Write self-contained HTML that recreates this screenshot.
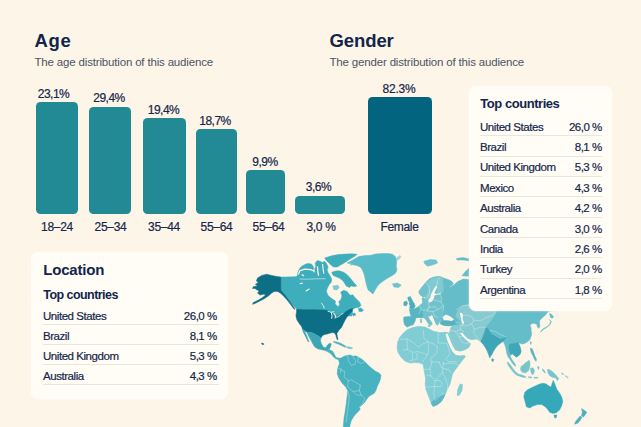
<!DOCTYPE html>
<html lang="en">
<head>
<meta charset="utf-8">
<title>Audience demographics</title>
<style>
*{box-sizing:border-box;margin:0;padding:0}
html,body{width:641px;height:427px;overflow:hidden}
body{background:#fef5e9;font-family:"Liberation Sans",sans-serif;color:#14264a;position:relative}
.abs{position:absolute;white-space:nowrap}
h2{position:absolute;font-size:18.5px;font-weight:700;line-height:20px;color:#12254b;letter-spacing:-0.1px}
.sub{position:absolute;font-size:11.5px;line-height:14px;color:#4b5563;white-space:nowrap;letter-spacing:-0.17px}
.bar{position:absolute;background:#218a94;border-radius:4.5px}
.val{-webkit-text-stroke:0.2px #14264a;position:absolute;font-size:12px;line-height:12px;text-align:center;color:#14264a;white-space:nowrap;letter-spacing:-0.5px;width:60px}
.lab{-webkit-text-stroke:0.2px #14264a;position:absolute;font-size:12px;line-height:12px;text-align:center;color:#14264a;white-space:nowrap;letter-spacing:-0.3px;width:60px}
.card{position:absolute;background:#fffdf6;border-radius:7px;box-shadow:0 0 2px rgba(255,253,246,.9)}
.card h3{position:absolute;font-weight:700;color:#12254b;white-space:nowrap}
.row{position:absolute;height:16.6px;font-size:11.5px;line-height:14px;color:#14264a;letter-spacing:-0.45px;border-bottom:1px solid #ebe6db;-webkit-text-stroke:0.2px #14264a}
.row span{position:absolute;left:0;top:0;white-space:nowrap}
.row b{position:absolute;right:0.3px;top:0;font-weight:400;white-space:nowrap;letter-spacing:-0.5px}
#map{position:absolute;left:0;top:0}
</style>
</head>
<body>

<!-- world map -->
<svg id="map" width="641" height="427" viewBox="0 0 641 427">
<!--MAP-->
<path d="M281 277.1 L295 276.8 L297.3 276.1 L297.8 272.7 L298.8 270.1 L300.7 267 L303.8 265.1 L307.6 263.4 L311.2 263.9 L313 266 L314 268.9 L315.9 267 L315.2 263.2 L317.1 260.6 L320.3 261.3 L322.2 262.5 L324.7 261.3 L326.6 263.8 L328.1 267 L327.2 270.1 L328.1 272.7 L329.8 275.2 L331.7 279 L331.4 282.1 L329.1 284.7 L327.2 288.5 L326.4 291.6 L328.1 295.4 L331.7 298.6 L335.5 301.1 L335.1 304.1 L338.2 306.7 L339.5 304.8 L338.8 301.6 L340.7 299.7 L342 295.9 L340.7 292.1 L343.9 290.2 L347.1 291.5 L350.2 295.3 L352.8 294.7 L354.7 297.2 L357.2 299.7 L359.7 302.2 L361 305.4 L359.1 307.3 L355.3 307.9 L352.8 309.2 L352 316 L300 316 L296.7 309.2 L291.7 304.3 L288.7 300.1 L285.1 295.1 L281 290.1Z" fill="#3eaebd" stroke="#3eaebd" stroke-width="0.5" stroke-linejoin="round"/>
<path d="M324.7 257.9 L331.7 255.8 L338 254.6 L345.6 254.1 L351.9 253.8 L357.2 254.3 L354.4 256.6 L350.6 258.7 L346.8 261.3 L343.7 263.2 L340.5 265.1 L337.4 267 L333.6 267 L331 265.1 L328.1 262.2 L326 260Z" fill="#3eaebd" stroke="#3eaebd" stroke-width="0.5" stroke-linejoin="round"/>
<path d="M331.7 272.3 L335.5 271 L339.2 270.8 L343.7 272.3 L346.8 274.5 L350 277.7 L352.5 281.1 L355.1 284 L356.9 285.9 L354.4 286.6 L351.3 285.9 L349.4 287.4 L346.2 285.9 L344.3 282.8 L342.4 280.2 L339.2 278.1 L335.5 276.4 L332.9 275.2Z" fill="#3eaebd" stroke="#3eaebd" stroke-width="0.5" stroke-linejoin="round"/>
<path d="M332.9 285.9 L338 285.3 L339.2 287.8 L336.7 290 L333.6 289.5Z" fill="#7fc6cf" stroke="#7fc6cf" stroke-width="0.5" stroke-linejoin="round"/>
<path d="M358.4 308.6 L361 307.9 L363.5 310.2 L361.6 311.7 L359.1 311.5Z" fill="#3eaebd" stroke="#3eaebd" stroke-width="0.5" stroke-linejoin="round"/>
<path d="M352.1 313.6 L354.7 313 L355.9 314.9 L353.4 316.1Z" fill="#3eaebd" stroke="#3eaebd" stroke-width="0.5" stroke-linejoin="round"/>
<path d="M257.5 278.1 L261.7 275.4 L266.7 274.2 L271.7 275.4 L276.7 276.4 L280.9 277.1 L280.9 290.1 L285.1 295.1 L288.7 300.1 L291.7 304.3 L295.1 309.3 L293.7 308.8 L290.1 303.8 L286.7 299.6 L283.7 296.3 L280.9 293.4 L277.6 291.4 L274.2 291.4 L271.7 293.1 L268.4 295.9 L264.2 298.8 L260 300.9 L255 303.4 L252.5 304.3 L253.3 302.6 L258.4 300.1 L262.5 297.6 L265.9 294.8 L263.4 294.3 L260 295.1 L257.5 293.1 L259.2 290.9 L256.7 289.7 L255 288.4 L252.5 288.4 L253.3 286.7 L257.5 285.9 L255.4 284.2 L258.4 282.6 L256.4 280.9Z" fill="#0c6f86" stroke="#0c6f86" stroke-width="0.5" stroke-linejoin="round"/>
<path d="M395.9 258.6 L400 255.4 L400.9 256.6 L400 258.2 L397.4 260.5Z" fill="#9ad3d9" stroke="#9ad3d9" stroke-width="0.5" stroke-linejoin="round"/>
<path d="M347 263.1 L352.2 260.3 L358.7 256.6 L364.4 255.6 L370.9 255.2 L375.6 253.9 L382.2 253.6 L388.7 253.6 L392.5 254.2 L394.8 256.1 L396.2 258.9 L396.7 262.2 L396.2 265.9 L397 270.1 L395.3 273.4 L393.4 274.8 L391.1 276.2 L387.8 278.1 L384 280.5 L380.8 282.8 L378 285.6 L375.1 290 L373 294 L368.1 290 L367.2 287.5 L366.2 283.7 L365.3 280 L364.6 276.2 L363.4 272.5 L362 269.2 L360.1 266.9 L356.9 265.5 L353.1 264.8 L350.3 265 L352.2 264.1Z" fill="#58bcc8" stroke="#58bcc8" stroke-width="0.5" stroke-linejoin="round"/>
<path d="M296.7 309.2 L303.4 309.7 L313.4 309.7 L323.4 310 L327.6 310.4 L330.1 311.7 L332.6 314.2 L334.3 316.7 L336.8 315.9 L340.1 315 L343.5 313.4 L346.8 310.9 L350.1 309.2 L352.6 308.4 L351.8 311.7 L348.5 315 L346 318.4 L344.3 321.7 L342.6 325.1 L340.1 328.4 L342.5 325 L341.1 327.8 L338.7 330.6 L336.9 333.4 L337.3 336.2 L338 339.5 L336.9 339.2 L335.9 335.3 L335 333.4 L333.1 332.5 L330.3 333 L327.5 333.9 L324.7 334.4 L322.3 335.8 L320.9 338.1 L318.1 335.8 L314.8 333.9 L311.6 332.5 L306.9 332 L302.7 329.7 L301.7 326.7 L299.2 323.4 L297 320 L295.9 315.9 L296.4 312.5Z" fill="#0c6f86" stroke="#0c6f86" stroke-width="0.5" stroke-linejoin="round"/>
<path d="M302.7 329.7 L306.9 332 L311.6 332.5 L314.8 333.9 L318.1 335.8 L320.9 338.1 L320.5 340.9 L321.4 343.7 L323.3 347 L325.6 348 L327.5 345.1 L329.4 343.3 L331.2 343.7 L330.8 346.1 L329.4 348.9 L327.5 350.3 L324.7 350.3 L321.9 349.8 L318.1 348.9 L314.8 347 L313 344.2 L311.1 340.5 L308.7 336.2 L306.9 332.3 L305 330.8Z" fill="#3ca6b6" stroke="#3ca6b6" stroke-width="0.5" stroke-linejoin="round"/>
<path d="M302.7 329.7 L304.2 330.4 L306.5 335.3 L308.9 341.4 L308.3 342 L305.5 336.4 L303.1 331.7Z" fill="#3ca6b6" stroke="#3ca6b6" stroke-width="0.5" stroke-linejoin="round"/>
<path d="M324.7 350.3 L327.5 350.3 L329.4 349.6 L332.6 351.2 L334 353.6 L335.5 356.4 L336.9 357.8 L340.6 358.3 L342.7 357.3 L341.1 359.5 L338.7 359.8 L335.9 358.8 L334 357.4 L332.2 355.6 L330.3 353.2 L327.5 351.8Z" fill="#4ab0be" stroke="#4ab0be" stroke-width="0.5" stroke-linejoin="round"/>
<path d="M333.6 341.4 L336.9 341.9 L340.6 343.3 L343.9 345.1 L346.2 346.6 L345.3 347.3 L342.5 346.1 L338.7 344.2 L335 342.8 L333.6 342.2Z" fill="#4ab0be" stroke="#4ab0be" stroke-width="0.5" stroke-linejoin="round"/>
<path d="M346.7 346.7 L350 347.1 L352.6 347.9 L351.9 348.8 L349 348.4 L346.8 347.7Z" fill="#6fc0cb" stroke="#6fc0cb" stroke-width="0.5" stroke-linejoin="round"/>
<path d="M261.5 343 L263.5 343.4 L263.8 344.6 L262 344.4Z" fill="#0c6f86" stroke="#0c6f86" stroke-width="0.5" stroke-linejoin="round"/>
<path d="M337.2 373.4 L337.7 368 L339.5 363.5 L338.6 359.9 L341.3 358.1 L344 356.3 L346.7 355.4 L350.3 355 L353.1 356.3 L355.8 355.8 L358.5 357.2 L361.2 358.7 L363.9 360.8 L366.6 363.5 L369.3 366.2 L372.5 368.9 L375.6 371.3 L379.2 373.1 L381 375.2 L380.5 378.9 L379.2 382.5 L377.4 386.1 L376.1 390 L374.3 393.3 L371.1 395.1 L368.4 396.9 L366.6 399.6 L364.8 402.3 L362.1 405 L359.4 407.3 L360.3 409.2 L357.6 412.2 L354.9 414.9 L353.1 417.6 L351.2 420.7 L350.3 423.9 L349.4 427.9 L343.1 427.9 L343.7 422.1 L344 417.6 L344.9 413.1 L345.5 408.6 L346.2 404.1 L346.7 399.6 L347.3 395.1 L347.6 390.6 L345.8 387 L343.1 384.3 L340.4 380.7 L338.3 377.1Z" fill="#47b2c0" stroke="#47b2c0" stroke-width="0.5" stroke-linejoin="round"/>
<path d="M403.8 332.5 L407.5 329.5 L412.5 327.5 L418.8 326.3 L425.1 327 L428.8 328.8 L433.8 331.3 L440.1 332.5 L445.1 332 L449.6 333 L451.4 338.8 L453.9 345.1 L456.4 350.1 L458.9 353.8 L463.9 355.1 L465.6 356.6 L462.6 360.1 L458.9 365.1 L455.1 370.1 L452.6 373.8 L451.4 378.9 L450.1 383.9 L447.6 388.9 L445.6 393.9 L443.8 397.6 L441.3 401.4 L437.6 404.6 L433.1 406.4 L431.3 403.9 L429.6 398.9 L427.6 393.9 L425.8 388.9 L425.1 383.9 L425.6 378.9 L424.6 373.8 L423.8 368.8 L423.1 364.6 L420.1 363.1 L415.1 362.6 L410 363.1 L405 361.3 L401.3 357.6 L398 352.6 L397 347.6 L397.5 342.5 L399.5 337.5Z" fill="#80cdd5" stroke="#80cdd5" stroke-width="0.5" stroke-linejoin="round"/>
<path d="M431.3 403.1 L433.6 400.1 L437.1 397.6 L441.1 395.6 L444.6 395.1 L443.8 397.6 L441.3 401.4 L437.6 404.6 L433.1 406.4Z" fill="#5ab7c3" stroke="#5ab7c3" stroke-width="0.5" stroke-linejoin="round"/>
<path d="M460.1 383.9 L462.6 384.6 L462.1 390.1 L459.6 395.1 L457.1 395.6 L457.6 390.1 L458.9 386.4Z" fill="#80cdd5" stroke="#80cdd5" stroke-width="0.5" stroke-linejoin="round"/>
<path d="M449.6 333 L455.1 332 L460.1 333.8 L463.9 337.5 L467.6 341.3 L470.6 343.8 L468.9 347.6 L465.1 350.1 L460.1 352.1 L456.4 350.1 L453.9 345.1 L451.4 338.8Z" fill="#86cad2" stroke="#86cad2" stroke-width="0.5" stroke-linejoin="round"/>
<path d="M445.5 334 L447.6 333.6 L449.9 339.4 L452.7 345.9 L455.5 350.6 L460 351.4 L464 350.6 L469 348.5 L472 352 L468 354.6 L463 355.3 L460 355.6 L456 354.9 L452.8 352.1 L450.4 347.8 L447.6 341.2Z" fill="#fef5e9"/>
<path d="M411.4 316.4 L410.2 312.6 L410.7 310 L412.6 309.1 L415.2 309.5 L417.7 307.2 L419.6 305.3 L422.1 304 L422.8 301.9 L422.1 298.3 L424 297.7 L424.9 299.6 L426.2 299.6 L425.3 296.4 L423.4 296.8 L420.9 295.6 L419.2 293.3 L419 291.4 L422.1 287 L425.9 282.5 L429.7 278.7 L434.1 277.1 L440.5 276.6 L443.6 278.1 L448 279.4 L451.8 281.3 L453.4 283.8 L451.2 285.7 L448.7 287.2 L450.6 287 L454.4 284.4 L458.2 281.3 L463.2 279.1 L469.3 279.4 L480 272 L600 262 L604 280 L598 305 L548.2 311.3 L545.6 315.1 L541.8 318.2 L539.6 320.7 L539.6 323.3 L539.9 326.4 L538.7 328.3 L537.4 327.1 L536.8 324.2 L533.6 323.3 L531.1 323.9 L530.2 325.8 L531.1 327.7 L531.1 330.2 L531.7 333.4 L531.1 336.5 L529.8 339.7 L527.9 341.6 L525.4 343.1 L522.9 343.9 L520.3 343.5 L518.4 342.6 L519.1 344.8 L520.3 347.9 L521 351.1 L520.1 354.2 L518.4 355.8 L516.3 357 L514.8 355.8 L513.5 354.9 L512.3 353.5 L511 354.5 L510.2 356.4 L511.7 359.3 L514 362.5 L515.8 365.2 L515.2 366.3 L512.6 363.4 L510.1 359.6 L508.2 357 L506.9 353.9 L506.3 350.7 L505.7 347.5 L504.5 344.1 L502.6 340.3 L497.7 341.3 L480.2 340.5 L476.4 338.8 L471.4 339.5 L467.6 338 L463.9 335 L460.6 332.5 L455.1 332 L449.6 333 L450.1 330 L451.4 327 L460.1 324.6 L452.6 325.6 L445.1 325.6 L441.3 323.9 L441.3 320.1 L439.2 321.5 L438.6 323.8 L437 325.3 L435.7 322.8 L434.2 319 L432.7 315.4 L431.7 313.9 L429.1 312.6 L425.3 313.3 L423.1 315.2 L422.2 317.7 L419 317.2 L415.9 317.7Z" fill="#64bdc9" stroke="#64bdc9" stroke-width="0.5" stroke-linejoin="round"/>
<path d="M461.9 275.8 L465.7 271.2 L468.9 268 L472.1 268 L472.1 276.3 L468.9 276.3Z" fill="#64bdc9" stroke="#64bdc9" stroke-width="0.5" stroke-linejoin="round"/>
<path d="M411.4 316.4 L410.2 312.6 L410.7 310 L412.6 309.1 L415.2 309.5 L417.7 307.2 L419.6 305.3 L422.1 304 L422.8 301.9 L422.1 298.3 L424 297.7 L424.9 299.6 L426.2 299.6 L425.3 296.4 L423.4 296.8 L420.9 295.6 L419.2 293.3 L419 291.4 L422.1 287 L425.9 282.5 L429.7 278.7 L434.1 277.1 L440.5 276.6 L441.7 280.6 L443.6 288.2 L442.4 292.7 L439.2 293.9 L441.7 297.1 L441.1 302.1 L443.6 305.9 L443 311 L443.6 316.7 L441.7 319.8 L441.3 320.1 L439.2 321.5 L438.6 323.8 L437 325.3 L435.7 322.8 L434.2 319 L432.7 315.4 L431.7 313.9 L429.1 312.6 L425.3 313.3 L423.1 315.2 L422.2 317.7 L419 317.2 L415.9 317.7Z" fill="#70c3cd" stroke="#70c3cd" stroke-width="0.5" stroke-linejoin="round"/>
<path d="M403.8 317.1 L407.6 316.4 L411.4 316.4 L415.9 317.7 L415.2 320.9 L413.3 324.7 L409.5 325.9 L407 327.2 L404.5 324.7 L403.6 320.9Z" fill="#58b6c3" stroke="#58b6c3" stroke-width="0.5" stroke-linejoin="round"/>
<path d="M427.2 283.2 L430.3 279.6 L434.1 278.1 L440.2 277.6 L443 278.9 L442.7 283.2 L443.4 288.2 L442.1 292.7 L437.9 293.3 L436.7 292 L437.9 289.2 L437.7 287 L436.7 285.7 L435.4 286.3 L433.5 288.9 L431.6 292 L430.1 295.6 L429.3 298.3 L427.2 297.7 L426.2 299.6 L425.5 296.8 L427.3 293.3 L428.8 288.2 L428.3 285.1Z" fill="#80cad3" stroke="#80cad3" stroke-width="0.5" stroke-linejoin="round"/>
<path d="M436.4 285.4 L437.4 287 L436 289.7 L434.4 292.7 L436 293.9 L440.7 293 L441 293.9 L436.7 294.8 L434.4 295.6 L434.1 297.7 L433.1 299.9 L431.4 301.9 L429.3 302.4 L428.1 301.1 L428.8 299 L430.3 297.7 L430.6 295.2 L431.9 292.3 L433.5 289.5 L435.1 286.7Z" fill="#fef5e9"/>
<path d="M461.4 321.4 L457.6 318.6 L455.6 316.1 L456.9 312.4 L458.9 308.6 L463.1 305.3 L468.9 304.6 L475.1 305.6 L480 304 L497 311 L493 318 L489 323 L485.6 327 L485.6 329.1 L484.4 332.9 L482.5 337.9 L480.6 341.7 L476.4 338.8 L471.4 339.5 L467.6 338 L463.9 335 L460.6 332.5 L455.1 332 L449.6 333 L450.1 330 L451.4 327 L461.4 324.6Z" fill="#86cad2" stroke="#86cad2" stroke-width="0.5" stroke-linejoin="round"/>
<path d="M440.1 321.7 L443.9 320.9 L449 321.2 L454 320.9 L455.9 322.8 L454.7 325 L449 325.9 L443.3 325.3 L440.4 324Z" fill="#55b3c0" stroke="#55b3c0" stroke-width="0.5" stroke-linejoin="round"/>
<path d="M442.6 317.1 L445.8 314.5 L449 315.8 L452.1 317.7 L454 319.6 L451.5 320.9 L447.7 320.2 L443.9 320.2Z" fill="#fef5e9"/>
<path d="M459.7 313.3 L461.6 312.6 L463.1 315.2 L462.6 319 L464.1 322.8 L463.1 324.7 L461.6 322.1 L461 317.7Z" fill="#fef5e9"/>
<path d="M461 333.5 L462.2 332.6 L463.9 334.8 L466.7 337.9 L467.9 340.7 L466 339.8 L463.1 336.7Z" fill="#fef5e9"/>
<path d="M510.2 344.1 L514.7 343.5 L518.4 342.6 L519.1 344.8 L520.3 347.9 L521 351.1 L520.1 354.2 L518.4 355.8 L516.3 357 L514.8 355.8 L513.5 354.9 L512.3 353.5 L511 354.5 L510.2 353 L509 349.2 L509 346Z" fill="#3fa7b7" stroke="#3fa7b7" stroke-width="0.5" stroke-linejoin="round"/>
<path d="M486.3 327.2 L485.6 329.1 L484.4 332.9 L482.5 337.9 L480.6 341.7 L483.1 344.2 L485.6 348 L487.5 351.8 L488.9 355.6 L489.7 358 L490.7 356.3 L492.2 354 L493.2 351.8 L495.1 348.7 L497.6 345.5 L500.8 343 L504 340.5 L505.9 336.7 L504.6 337.9 L500.8 339.2 L495.7 336.7 L490.7 333.5 L489.4 330.3Z" fill="#3ea6b6" stroke="#3ea6b6" stroke-width="0.5" stroke-linejoin="round"/>
<path d="M491.9 358.6 L493.9 359.6 L492.9 361.8 L491.7 360.6Z" fill="#3ea6b6" stroke="#3ea6b6" stroke-width="0.5" stroke-linejoin="round"/>
<path d="M407.8 297.3 L410.4 296.6 L411.6 299 L412.6 301.1 L414.2 303.4 L415.2 305.9 L414.2 308.2 L411.6 309 L409.4 308.2 L410.1 305.9 L409.1 304 L409.6 302.1 L408.1 300.2Z" fill="#4aaebd" stroke="#4aaebd" stroke-width="0.5" stroke-linejoin="round"/>
<path d="M403.8 301.9 L406.6 300.9 L407.6 303.4 L406.3 305.9 L403.8 305.4Z" fill="#4aaebd" stroke="#4aaebd" stroke-width="0.5" stroke-linejoin="round"/>
<path d="M392.5 283.8 L397.5 283.1 L401.3 285.1 L398.8 287.6 L393.8 287.1Z" fill="#70c3cd" stroke="#70c3cd" stroke-width="0.5" stroke-linejoin="round"/>
<path d="M423.8 261.3 L430.1 259.5 L436.3 260 L437.6 263 L432.6 265 L427.6 266.3 L424.6 263.8Z" fill="#70c3cd" stroke="#70c3cd" stroke-width="0.5" stroke-linejoin="round"/>
<path d="M456.3 258.5 L462.6 257.5 L470.1 259 L470.1 261 L463.1 260 L457.1 260Z" fill="#64bdc9" stroke="#64bdc9" stroke-width="0.5" stroke-linejoin="round"/>
<path d="M422.2 317.7 L423.1 315.2 L425.3 313.3 L429.1 312.6 L431.7 313.9 L431 315.8 L428.1 316.4 L429.4 319 L431 321.5 L432.3 323.4 L431.7 325 L429.8 325.3 L428.1 323.4 L426.6 320.9 L425.1 318.7 L423.8 318Z" fill="#70c3cd" stroke="#70c3cd" stroke-width="0.5" stroke-linejoin="round"/>
<path d="M428.1 325.3 L430.4 325.7 L429.8 326.8 L428.1 326.3Z" fill="#70c3cd" stroke="#70c3cd" stroke-width="0.5" stroke-linejoin="round"/>
<path d="M420.3 319 L421.5 319 L421.8 322.5 L420.5 322.8Z" fill="#70c3cd" stroke="#70c3cd" stroke-width="0.5" stroke-linejoin="round"/>
<path d="M411.4 316.4 L410.2 312.6 L409.2 309.6 L410.8 308.8 L414 309.1 L417.1 307.6 L420.3 307.8 L422.2 310.7 L423.1 315.2 L422.2 317.7 L419 317.2 L415.9 317.7Z" fill="#58b6c3" stroke="#58b6c3" stroke-width="0.5" stroke-linejoin="round"/>
<path d="M549.4 319.5 L550.7 321.4 L549.7 324.2 L547.8 326.2 L545.6 327.4 L543.1 328.7 L541.3 330.5 L540.6 332.3 L541.8 331 L543.6 329.2 L546.1 328 L548.2 326.4 L550.2 324.4 L551.4 321.6Z" fill="#66bec9" stroke="#66bec9" stroke-width="0.5" stroke-linejoin="round"/>
<path d="M549.7 313.5 L551.9 314.6 L553.7 317.1 L552.2 318.3 L550.2 317.3Z" fill="#66bec9" stroke="#66bec9" stroke-width="0.5" stroke-linejoin="round"/>
<path d="M530.5 341.6 L531.6 342.6 L530.8 344.5 L530.1 343.1Z" fill="#66bec9" stroke="#66bec9" stroke-width="0.5" stroke-linejoin="round"/>
<path d="M530.3 348.2 L532.2 348.8 L533.5 352 L534.8 355.8 L536.4 359 L536 361.5 L534.4 359 L532.6 355.2 L531 352Z" fill="#55b4c1" stroke="#55b4c1" stroke-width="0.5" stroke-linejoin="round"/>
<path d="M520.9 366.5 L523.4 364.7 L526.5 362.1 L529.3 360.2 L530.1 363.4 L529.7 367.2 L528.4 371 L525.3 373.1 L522.1 372.2 L520.5 369.7Z" fill="#78c4cd" stroke="#78c4cd" stroke-width="0.5" stroke-linejoin="round"/>
<path d="M507 362.1 L508.8 362.8 L512 367.2 L515.2 371.6 L518.3 374.1 L517.7 375.7 L514.5 373.5 L511.4 369.7 L508.2 365.3Z" fill="#78c4cd" stroke="#78c4cd" stroke-width="0.5" stroke-linejoin="round"/>
<path d="M517.7 374.1 L521.5 374.8 L525.9 376.7 L525.3 377.7 L520.9 376.7 L517.7 375.4Z" fill="#78c4cd" stroke="#78c4cd" stroke-width="0.5" stroke-linejoin="round"/>
<path d="M528.4 376.7 L531.6 376.9 L531.6 377.9 L528.4 377.7Z" fill="#78c4cd" stroke="#78c4cd" stroke-width="0.5" stroke-linejoin="round"/>
<path d="M534.1 377.3 L537.9 377.3 L537.7 378.2 L534.1 378.2Z" fill="#78c4cd" stroke="#78c4cd" stroke-width="0.5" stroke-linejoin="round"/>
<path d="M537.9 365.9 L539.2 367.2 L538.6 369.7 L537.7 367.8Z" fill="#78c4cd" stroke="#78c4cd" stroke-width="0.5" stroke-linejoin="round"/>
<path d="M542.4 368.8 L544.2 370.3 L545.5 373.1 L544.2 372.6 L542.7 370.6Z" fill="#78c4cd" stroke="#78c4cd" stroke-width="0.5" stroke-linejoin="round"/>
<path d="M561.3 372.9 L562.6 373.1 L563.8 374.8 L563 374.8Z" fill="#78c4cd" stroke="#78c4cd" stroke-width="0.5" stroke-linejoin="round"/>
<path d="M565.1 375.7 L566.4 375.9 L568.3 377.9 L567.3 377.7Z" fill="#78c4cd" stroke="#78c4cd" stroke-width="0.5" stroke-linejoin="round"/>
<path d="M530.3 368.4 L533.1 367.8 L534.4 370.3 L533.9 373.5 L532.2 374.8 L531 372.2Z" fill="#78c4cd" stroke="#78c4cd" stroke-width="0.5" stroke-linejoin="round"/>
<path d="M547.4 369.3 L549.9 369.7 L553.1 372.2 L556.3 375.4 L558.8 378.6 L557.5 380.7 L555.6 377.9 L552.5 377.3 L549.9 376 L548 373.1Z" fill="#78c4cd" stroke="#78c4cd" stroke-width="0.5" stroke-linejoin="round"/>
<path d="M523.8 396.9 L524.7 392.5 L527.5 389.8 L531.9 387.6 L536.4 385.4 L539.7 384.1 L543 383.2 L546.3 384.1 L548.9 385.9 L551.1 387 L552.4 382.6 L553.3 380.4 L555.1 384.8 L556.8 389.2 L559.5 392.9 L561.7 396.9 L562.8 401.3 L561.7 405.7 L559.5 410.1 L556.2 412.8 L552.9 413.4 L549.6 412.3 L547.4 409 L545.2 406.8 L541.9 404.6 L537.5 404.6 L533 406.1 L529.7 407.9 L526.4 406.8 L525.3 402.4Z" fill="#35a9ba" stroke="#35a9ba" stroke-width="0.5" stroke-linejoin="round"/>
<path d="M554 415 L556.8 415 L556.2 417.8 L554.6 417.8Z" fill="#35a9ba" stroke="#35a9ba" stroke-width="0.5" stroke-linejoin="round"/>
<path d="M581.5 408.6 L585 410.8 L586.8 412.3 L585 415 L583.3 417.2 L581.5 415.4 L582.4 412.3Z" fill="#4bb0be" stroke="#4bb0be" stroke-width="0.5" stroke-linejoin="round"/>
<path d="M582 417.2 L580.2 420.2 L577.6 423.3 L574.5 424.2 L575.6 421.6 L577.8 418.7 L580.2 416.1Z" fill="#4bb0be" stroke="#4bb0be" stroke-width="0.5" stroke-linejoin="round"/>
<path d="M298.5 273.9 L299.8 270.8 L304.5 269.2 L310.8 269.7 L314 271" fill="none" stroke="#fef5e9" stroke-width="1.3" stroke-opacity="1.0" stroke-linecap="round" stroke-linejoin="round"/>
<path d="M317.5 267 L317.8 271.4 L318.5 275.2" fill="none" stroke="#fef5e9" stroke-width="1.3" stroke-opacity="1.0" stroke-linecap="round" stroke-linejoin="round"/>
<path d="M322.6 264.4 L323.1 268.9 L323.8 273.3" fill="none" stroke="#fef5e9" stroke-width="1.1" stroke-opacity="1.0" stroke-linecap="round" stroke-linejoin="round"/>
<path d="M300.1 279 L307.6 279.2 L316.5 278.8 L325.3 278.7" fill="none" stroke="#fef5e9" stroke-width="0.7" stroke-opacity="0.8" stroke-linecap="round" stroke-linejoin="round"/>
<path d="M314 268.9 L314 272" fill="none" stroke="#fef5e9" stroke-width="1.0" stroke-opacity="1.0" stroke-linecap="round" stroke-linejoin="round"/>
<path d="M328 311.2 L331.2 312.3 L333.9 311.7" fill="none" stroke="#fef5e9" stroke-width="0.9" stroke-opacity="1.0" stroke-linecap="round" stroke-linejoin="round"/>
<path d="M331.3 312.5 L332 315.8 L331.7 318.4" fill="none" stroke="#fef5e9" stroke-width="1.0" stroke-opacity="1.0" stroke-linecap="round" stroke-linejoin="round"/>
<path d="M334 313.4 L335.7 315.8 L335.1 318.1" fill="none" stroke="#fef5e9" stroke-width="1.0" stroke-opacity="1.0" stroke-linecap="round" stroke-linejoin="round"/>
<path d="M335.7 317.2 L337.3 317 L340.1 315.5" fill="none" stroke="#fef5e9" stroke-width="0.9" stroke-opacity="1.0" stroke-linecap="round" stroke-linejoin="round"/>
<path d="M340.8 314.6 L343 313.5" fill="none" stroke="#fef5e9" stroke-width="0.8" stroke-opacity="1.0" stroke-linecap="round" stroke-linejoin="round"/>
<path d="M321.4 303.1 L323.3 305.5 L324.2 308.3" fill="none" stroke="#fef5e9" stroke-width="0.8" stroke-opacity="1.0" stroke-linecap="round" stroke-linejoin="round"/>
<path d="M306.1 291 L307.6 290 L309.2 289.1" fill="none" stroke="#fef5e9" stroke-width="1.1" stroke-opacity="1.0" stroke-linecap="round" stroke-linejoin="round"/>
<path d="M300.1 283.7 L302.3 283.1" fill="none" stroke="#fef5e9" stroke-width="1.1" stroke-opacity="1.0" stroke-linecap="round" stroke-linejoin="round"/>
<path d="M302 274.8 L303.6 275.6" fill="none" stroke="#fef5e9" stroke-width="1.2" stroke-opacity="1.0" stroke-linecap="round" stroke-linejoin="round"/>
<path d="M400 339.4 L407 338.9 L407.5 349.7 L402.8 350.1" fill="none" stroke="#fffaf0" stroke-width="0.7" stroke-opacity="0.45" stroke-linecap="round" stroke-linejoin="round"/>
<path d="M407 338.9 L414.1 343.1 L418.3 347.3 L422.5 344.1 L428.1 341.7 L433.7 344.1 L437.5 346.9" fill="none" stroke="#fffaf0" stroke-width="0.7" stroke-opacity="0.45" stroke-linecap="round" stroke-linejoin="round"/>
<path d="M423.4 330 L423.9 338.4 L428.1 341.7 L428.6 351.6 L427.2 355.3 L422.5 361.9" fill="none" stroke="#fffaf0" stroke-width="0.7" stroke-opacity="0.45" stroke-linecap="round" stroke-linejoin="round"/>
<path d="M438.4 332.8 L438 343.1 L446.9 343.1 L448.7 348.7 L449.7 354.4 L445.9 359.1 L448.7 361.9 L457.2 361.4" fill="none" stroke="#fffaf0" stroke-width="0.7" stroke-opacity="0.45" stroke-linecap="round" stroke-linejoin="round"/>
<path d="M437.5 346.9 L436.6 353.4 L430.9 358.1 L430.9 361.9 L439.4 362.3" fill="none" stroke="#fffaf0" stroke-width="0.7" stroke-opacity="0.45" stroke-linecap="round" stroke-linejoin="round"/>
<path d="M407.5 349.7 L413.1 352.5 L417.8 351.6 L427.2 354.4" fill="none" stroke="#fffaf0" stroke-width="0.7" stroke-opacity="0.45" stroke-linecap="round" stroke-linejoin="round"/>
<path d="M416.9 353.4 L417.3 359.1 L409.4 360.9" fill="none" stroke="#fffaf0" stroke-width="0.7" stroke-opacity="0.45" stroke-linecap="round" stroke-linejoin="round"/>
<path d="M412.2 353.4 L412.7 360" fill="none" stroke="#fffaf0" stroke-width="0.7" stroke-opacity="0.45" stroke-linecap="round" stroke-linejoin="round"/>
<path d="M439.4 362.3 L441.2 367.5 L446.9 369.4" fill="none" stroke="#fffaf0" stroke-width="0.7" stroke-opacity="0.45" stroke-linecap="round" stroke-linejoin="round"/>
<path d="M423.9 369.5 L430 369 L430.9 376.1 L435.1 380.7 L434.7 386.4 L425.3 387.3" fill="none" stroke="#fffaf0" stroke-width="0.7" stroke-opacity="0.45" stroke-linecap="round" stroke-linejoin="round"/>
<path d="M430.9 376.1 L426.2 375.1" fill="none" stroke="#fffaf0" stroke-width="0.7" stroke-opacity="0.45" stroke-linecap="round" stroke-linejoin="round"/>
<path d="M443.1 363.9 L442.6 372.3 L445.9 379.8 L447.8 385.4 L447.3 392" fill="none" stroke="#fffaf0" stroke-width="0.7" stroke-opacity="0.45" stroke-linecap="round" stroke-linejoin="round"/>
<path d="M435.1 380.7 L439.8 380.3 L442.2 383.6 L440.3 386.8 L434.7 386.4" fill="none" stroke="#fffaf0" stroke-width="0.7" stroke-opacity="0.45" stroke-linecap="round" stroke-linejoin="round"/>
<path d="M434.7 386.4 L433.7 392.9 L435.1 400.4 L439.4 396.7 L443.1 393.4" fill="none" stroke="#fffaf0" stroke-width="0.7" stroke-opacity="0.45" stroke-linecap="round" stroke-linejoin="round"/>
<path d="M442.6 372.3 L435.1 380.7" fill="none" stroke="#fffaf0" stroke-width="0.7" stroke-opacity="0.45" stroke-linecap="round" stroke-linejoin="round"/>
<path d="M443.1 363.9 L452.5 362.9 L459 364.8" fill="none" stroke="#fffaf0" stroke-width="0.7" stroke-opacity="0.45" stroke-linecap="round" stroke-linejoin="round"/>
<path d="M445.9 369.5 L448.7 369 L450.1 372.3" fill="none" stroke="#fffaf0" stroke-width="0.7" stroke-opacity="0.45" stroke-linecap="round" stroke-linejoin="round"/>
<path d="M430 369 L431.9 362" fill="none" stroke="#fffaf0" stroke-width="0.7" stroke-opacity="0.45" stroke-linecap="round" stroke-linejoin="round"/>
<path d="M443.1 363.9 L443.1 362" fill="none" stroke="#fffaf0" stroke-width="0.7" stroke-opacity="0.45" stroke-linecap="round" stroke-linejoin="round"/>
<path d="M347.6 356.3 L348.5 360.8 L351.2 365.3 L354.9 364.4 L355.8 360.8 L353.1 357.2" fill="none" stroke="#fffaf0" stroke-width="0.7" stroke-opacity="0.45" stroke-linecap="round" stroke-linejoin="round"/>
<path d="M358.5 357.2 L357.6 361.7 L361.2 363.5 L364.8 361.7" fill="none" stroke="#fffaf0" stroke-width="0.7" stroke-opacity="0.45" stroke-linecap="round" stroke-linejoin="round"/>
<path d="M340.4 369.8 L344.9 371.6 L344 377.1 L348.5 380.7 L351.2 379.8 L355.8 382.5 L360.3 385.2" fill="none" stroke="#fffaf0" stroke-width="0.7" stroke-opacity="0.45" stroke-linecap="round" stroke-linejoin="round"/>
<path d="M348.5 380.7 L347.6 387 L353.1 391.5 L359.4 390.6 L360.3 385.2" fill="none" stroke="#fffaf0" stroke-width="0.7" stroke-opacity="0.45" stroke-linecap="round" stroke-linejoin="round"/>
<path d="M353.1 391.5 L356.7 395.1 L361.2 395.1 L359.4 390.6" fill="none" stroke="#fffaf0" stroke-width="0.7" stroke-opacity="0.45" stroke-linecap="round" stroke-linejoin="round"/>
<path d="M347.6 390.6 L349.4 396.9 L348.5 404.1 L347.3 413.1 L346.2 422.1" fill="none" stroke="#fffaf0" stroke-width="0.7" stroke-opacity="0.45" stroke-linecap="round" stroke-linejoin="round"/>
<path d="M361.2 395.1 L364.8 398.7 L362.1 404.1 L359.4 407.3" fill="none" stroke="#fffaf0" stroke-width="0.7" stroke-opacity="0.45" stroke-linecap="round" stroke-linejoin="round"/>
<path d="M337.7 368 L341.3 368.9 L340.4 372.5" fill="none" stroke="#fffaf0" stroke-width="0.7" stroke-opacity="0.45" stroke-linecap="round" stroke-linejoin="round"/>
<path d="M456.5 309.5 L462.9 305.7 L469.2 305.1" fill="none" stroke="#fffaf0" stroke-width="0.7" stroke-opacity="0.45" stroke-linecap="round" stroke-linejoin="round"/>
<path d="M455.9 322.8 L459.7 322.1 L461 325.3 L460.3 329.7 L463.5 331.6" fill="none" stroke="#fffaf0" stroke-width="0.7" stroke-opacity="0.45" stroke-linecap="round" stroke-linejoin="round"/>
<path d="M461 325.3 L466.7 325.9 L471.7 324 L473.6 320.2 L471.7 316.4 L466.7 315.2 L463.1 315.2" fill="none" stroke="#fffaf0" stroke-width="0.7" stroke-opacity="0.45" stroke-linecap="round" stroke-linejoin="round"/>
<path d="M473.6 320.2 L480.6 320.9 L485.6 317.7 L490.7 316.4 L495.7 312" fill="none" stroke="#fffaf0" stroke-width="0.7" stroke-opacity="0.45" stroke-linecap="round" stroke-linejoin="round"/>
<path d="M471.7 324 L474.2 329.1 L473.6 332.9 L480.6 341.7" fill="none" stroke="#fffaf0" stroke-width="0.7" stroke-opacity="0.45" stroke-linecap="round" stroke-linejoin="round"/>
<path d="M474.2 329.1 L480.6 327.2 L486.3 327.2" fill="none" stroke="#fffaf0" stroke-width="0.7" stroke-opacity="0.45" stroke-linecap="round" stroke-linejoin="round"/>
<path d="M449 325.9 L450.2 330.3 L455.3 331.6 L460.3 329.7" fill="none" stroke="#fffaf0" stroke-width="0.7" stroke-opacity="0.45" stroke-linecap="round" stroke-linejoin="round"/>
<path d="M450.2 330.3 L449 333.1" fill="none" stroke="#fffaf0" stroke-width="0.7" stroke-opacity="0.45" stroke-linecap="round" stroke-linejoin="round"/>
<path d="M455.3 331.6 L459.1 336.7 L463.1 336.7" fill="none" stroke="#fffaf0" stroke-width="0.7" stroke-opacity="0.45" stroke-linecap="round" stroke-linejoin="round"/>
<path d="M459.1 336.7 L461.6 341.7 L466.7 343.6 L470.5 341.7" fill="none" stroke="#fffaf0" stroke-width="0.7" stroke-opacity="0.45" stroke-linecap="round" stroke-linejoin="round"/>
<path d="M489.4 330.3 L495.7 331.6 L500.8 334.8 L505.9 336.7" fill="none" stroke="#fffaf0" stroke-width="0.7" stroke-opacity="0.45" stroke-linecap="round" stroke-linejoin="round"/>
<path d="M439.2 293.9 L441.7 297.1 L441.1 302.1 L443.6 305.9 L443 311" fill="none" stroke="#fffaf0" stroke-width="0.7" stroke-opacity="0.45" stroke-linecap="round" stroke-linejoin="round"/>
<path d="M434.1 300.2 L437.9 300.9 L441.1 302.1" fill="none" stroke="#fffaf0" stroke-width="0.7" stroke-opacity="0.45" stroke-linecap="round" stroke-linejoin="round"/>
<path d="M428.4 302.4 L429.3 307.2 L427.2 311" fill="none" stroke="#fffaf0" stroke-width="0.7" stroke-opacity="0.45" stroke-linecap="round" stroke-linejoin="round"/>
<path d="M419.6 305.3 L420.9 309.7 L419 313.5" fill="none" stroke="#fffaf0" stroke-width="0.7" stroke-opacity="0.45" stroke-linecap="round" stroke-linejoin="round"/>
<path d="M429.3 307.2 L435.4 306.6 L437.9 309.7 L443.6 305.9" fill="none" stroke="#fffaf0" stroke-width="0.7" stroke-opacity="0.45" stroke-linecap="round" stroke-linejoin="round"/>
<path d="M420.9 309.7 L425.3 310.4 L429.3 307.2" fill="none" stroke="#fffaf0" stroke-width="0.7" stroke-opacity="0.45" stroke-linecap="round" stroke-linejoin="round"/>
<path d="M427.2 311 L432.9 311.6 L437.9 309.7" fill="none" stroke="#fffaf0" stroke-width="0.7" stroke-opacity="0.45" stroke-linecap="round" stroke-linejoin="round"/>
<path d="M432.9 311.6 L434.1 316 L437.9 317.3" fill="none" stroke="#fffaf0" stroke-width="0.7" stroke-opacity="0.45" stroke-linecap="round" stroke-linejoin="round"/>
<path d="M436.7 285.7 L437.9 280.6 L440.5 276.6" fill="none" stroke="#fffaf0" stroke-width="0.7" stroke-opacity="0.45" stroke-linecap="round" stroke-linejoin="round"/>
<path d="M425.9 282.5 L429.1 287 L429.7 293.3 L427.2 297.7" fill="none" stroke="#fffaf0" stroke-width="0.7" stroke-opacity="0.45" stroke-linecap="round" stroke-linejoin="round"/>
<!--/MAP-->
</svg>

<!-- Age -->
<h2 style="left:34.5px;top:30.5px;letter-spacing:0.7px">Age</h2>
<div class="sub" style="left:34.5px;top:54.5px">The age distribution of this audience</div>

<div class="bar" style="left:35.5px;top:102px;width:42px;height:112px"></div>
<div class="bar" style="left:89.25px;top:107px;width:42px;height:107px"></div>
<div class="bar" style="left:142.75px;top:118.25px;width:42.75px;height:95.75px"></div>
<div class="bar" style="left:196.25px;top:129.25px;width:40.5px;height:84.75px"></div>
<div class="bar" style="left:246.25px;top:170px;width:38.25px;height:44px"></div>
<div class="bar" style="left:295px;top:195.5px;width:49.5px;height:18.5px"></div>

<div class="val" style="left:23.5px;top:87.5px">23,1%</div>
<div class="val" style="left:79px;top:91.75px">29,4%</div>
<div class="val" style="left:133.5px;top:103.75px">19,4%</div>
<div class="val" style="left:185px;top:115px">18,7%</div>
<div class="val" style="left:235px;top:155.75px">9,9%</div>
<div class="val" style="left:288.5px;top:180.75px">3,6%</div>

<div class="lab" style="left:27px;top:220.5px">18–24</div>
<div class="lab" style="left:80.5px;top:220.5px">25–34</div>
<div class="lab" style="left:134px;top:220.5px">35–44</div>
<div class="lab" style="left:186.5px;top:220.5px">55–64</div>
<div class="lab" style="left:238.5px;top:220.5px">55–64</div>
<div class="lab" style="left:291px;top:220.5px">3,0 %</div>

<!-- Gender -->
<h2 style="left:329.5px;top:30.5px">Gender</h2>
<div class="sub" style="left:329.5px;top:54.5px">The gender distribution of this audience</div>
<div class="bar" style="left:367.5px;top:97px;width:64.25px;height:117px;background:#03647f"></div>
<div class="val" style="left:369px;top:83px;letter-spacing:-0.2px">82.3%</div>
<div class="lab" style="left:369.5px;top:220.5px">Female</div>

<!-- Top countries card (right) -->
<div class="card" style="left:469.25px;top:86.25px;width:142.5px;height:224.5px">
  <h3 style="left:11px;top:10px;font-size:13px;line-height:16px;letter-spacing:-0.45px">Top countries</h3>
  <div class="row" style="left:10.75px;top:33.5px;width:122px"><span>United States</span><b>26,0 %</b></div>
  <div class="row" style="left:10.75px;top:53.85px;width:122px"><span>Brazil</span><b>8,1 %</b></div>
  <div class="row" style="left:10.75px;top:74.2px;width:122px"><span>United Kingdom</span><b>5,3 %</b></div>
  <div class="row" style="left:10.75px;top:94.55px;width:122px"><span>Mexico</span><b>4,3 %</b></div>
  <div class="row" style="left:10.75px;top:114.9px;width:122px"><span>Australia</span><b>4,2 %</b></div>
  <div class="row" style="left:10.75px;top:135.25px;width:122px"><span>Canada</span><b>3,0 %</b></div>
  <div class="row" style="left:10.75px;top:155.6px;width:122px"><span>India</span><b>2,6 %</b></div>
  <div class="row" style="left:10.75px;top:175.95px;width:122px"><span>Turkey</span><b>2,0 %</b></div>
  <div class="row" style="left:10.75px;top:196.3px;width:122px"><span>Argentina</span><b>1,8 %</b></div>
</div>

<!-- Location card (left) -->
<style>.loc .row{height:15.6px}.loc .row b{right:2.1px}</style>
<div class="card loc" style="left:31.25px;top:251.75px;width:196.75px;height:147px">
  <h3 style="left:12px;top:9px;font-size:15px;line-height:18px;letter-spacing:-0.2px">Location</h3>
  <h3 style="left:12px;top:35.5px;font-size:12.5px;line-height:16px;letter-spacing:-0.55px">Top countries</h3>
  <div class="row" style="left:11.75px;top:57.5px;width:175.75px"><span>United States</span><b>26,0 %</b></div>
  <div class="row" style="left:11.75px;top:77.5px;width:175.75px"><span>Brazil</span><b>8,1 %</b></div>
  <div class="row" style="left:11.75px;top:97.5px;width:175.75px"><span>United Kingdom</span><b>5,3 %</b></div>
  <div class="row" style="left:11.75px;top:117.5px;width:175.75px"><span>Australia</span><b>4,3 %</b></div>
</div>

</body>
</html>
